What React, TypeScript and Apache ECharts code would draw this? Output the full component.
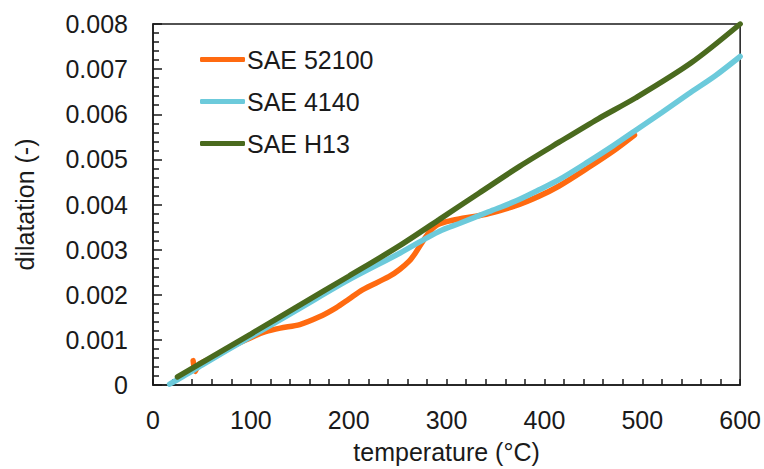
import React, { useEffect, useRef } from "react";
import * as echarts from "echarts";

// temperature (°C), dilatation (-)
const sae52100: [number, number][] = [
  [41, 0.00054], [43, 0.0003], [47, 0.00046], [60, 0.0006], [80, 0.00085],
  [100, 0.00105], [115, 0.00118], [130, 0.00126], [150, 0.00134], [170, 0.00151],
  [187, 0.00171], [200, 0.0019], [214, 0.00211], [241, 0.0024], [252, 0.00256],
  [262, 0.00275], [268, 0.00292], [275, 0.00316], [282, 0.00338], [290, 0.00354],
  [300, 0.00362], [313, 0.00368], [330, 0.00374], [343, 0.0038], [370, 0.00397],
  [394, 0.00418], [415, 0.00441], [445, 0.00482], [470, 0.00518], [492, 0.00554],
];

const sae4140: [number, number][] = [
  [17, 0.00002], [30, 0.00018], [50, 0.00044], [75, 0.00076], [100, 0.00107],
  [150, 0.0017], [200, 0.00233], [252, 0.00292], [279, 0.00325], [295, 0.00343],
  [313, 0.00358], [343, 0.00384], [370, 0.00407], [394, 0.00432], [415, 0.00455],
  [445, 0.00495], [470, 0.0053], [493, 0.00564], [520, 0.00604], [547, 0.00645],
  [575, 0.00686], [600, 0.00728],
];

const saeH13: [number, number][] = [
  [25, 0.00018], [100, 0.00113], [150, 0.00177], [200, 0.00241], [250, 0.00306],
  [292, 0.00366], [333, 0.00425], [375, 0.00485], [415, 0.00538], [455, 0.0059],
  [493, 0.00636], [550, 0.00714], [600, 0.008],
];

const seriesNames = ["SAE 52100", "SAE 4140", "SAE H13"];
const seriesColors = ["#FF6A10", "#6CCADB", "#4A6A1E"];

const FONT = "Liberation Sans, Arial, sans-serif";
const INK = "#1a1a1a";

export default function App() {
  const ref = useRef<HTMLDivElement>(null);

  useEffect(() => {
    if (!ref.current) return;
    document.body.style.margin = "0";
    const chart = echarts.init(ref.current, undefined, { renderer: "svg" });
    const datasets = [sae52100, sae4140, saeH13];
    chart.setOption({
      animation: false,
      backgroundColor: "#ffffff",
      grid: {
        left: 153,
        top: 24,
        right: 22,
        bottom: 79,
        show: true,
        borderColor: INK,
        borderWidth: 1.5,
        backgroundColor: "transparent",
      },
      legend: {
        orient: "vertical",
        left: 195,
        top: 42,
        itemWidth: 45,
        itemHeight: 5,
        itemGap: 17,
        icon: "roundRect",
        textStyle: { fontFamily: FONT, fontSize: 25, color: INK, padding: [0, 0, 0, -3] },
        data: seriesNames,
      },
      xAxis: {
        type: "value",
        min: 0,
        max: 600,
        interval: 100,
        name: "temperature (°C)",
        nameLocation: "middle",
        nameGap: 54,
        nameTextStyle: { fontFamily: FONT, fontSize: 25, color: INK },
        axisLine: { show: true, lineStyle: { color: INK, width: 1.5 } },
        axisTick: { show: true, inside: true, length: 6, lineStyle: { color: INK, width: 1.5 } },
        minorTick: { show: true, splitNumber: 5, length: 6, lineStyle: { color: INK, width: 1.5 } },
        splitLine: { show: false },
        axisLabel: { fontFamily: FONT, fontSize: 25, color: INK, margin: 22 },
      },
      yAxis: {
        type: "value",
        min: 0,
        max: 0.008,
        interval: 0.001,
        name: "dilatation (-)",
        nameLocation: "middle",
        nameGap: 116,
        nameRotate: 90,
        nameTextStyle: { fontFamily: FONT, fontSize: 25, color: INK },
        axisLine: { show: true, lineStyle: { color: INK, width: 1.5 } },
        axisTick: { show: true, inside: true, length: 9, lineStyle: { color: INK, width: 1.5 } },
        minorTick: { show: true, splitNumber: 5, length: 6, lineStyle: { color: INK, width: 1.5 } },
        splitLine: { show: false },
        axisLabel: {
          fontFamily: FONT,
          fontSize: 25,
          color: INK,
          margin: 25,
          formatter: (v: number) => (v === 0 ? "0" : v.toFixed(3)),
        },
      },
      series: datasets.map((d, i) => ({
        name: seriesNames[i],
        type: "line",
        data: d,
        smooth: 0.3,
        showSymbol: false,
        symbol: "none",
        color: seriesColors[i],
        lineStyle: { width: 5.5, color: seriesColors[i], cap: "round" },
      })),
    });
    return () => chart.dispose();
  }, []);

  return <div ref={ref} style={{ width: 764, height: 469 }} />;
}
